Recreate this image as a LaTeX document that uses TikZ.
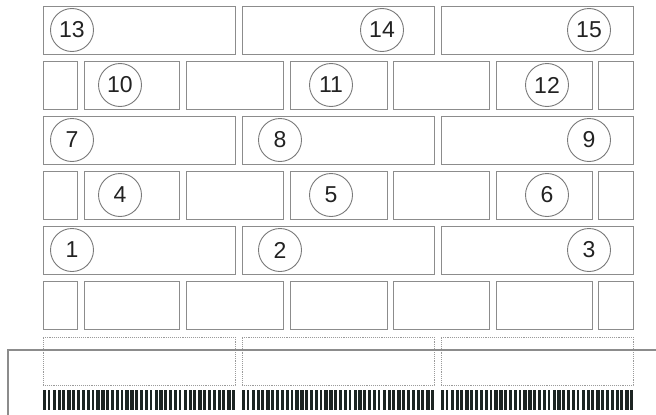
\documentclass[tikz,border=0pt]{standalone}
\usepackage{fontspec}
\setmainfont{Liberation Sans}
\definecolor{linegray}{HTML}{8C8C8C}
\definecolor{circgray}{HTML}{7A7A7A}
\definecolor{dashgray}{HTML}{9A9A9A}
\definecolor{textdark}{HTML}{222222}
\definecolor{bardark}{HTML}{1C2422}
\begin{document}
\begin{tikzpicture}[x=1pt,y=-1pt,
  brick/.style={draw=linegray, line width=1pt, inner sep=0pt, outer sep=0pt, anchor=north west, minimum height=48pt},
  ghost/.style={draw=dashgray, densely dotted, line width=0.9pt, inner sep=0pt, outer sep=0pt, anchor=north west, minimum height=48pt},
  num/.style={circle, draw=circgray, line width=0.9pt, minimum size=43pt, inner sep=0pt, font=\fontsize{23}{23}\selectfont, text=textdark},
  edge/.style={draw=linegray, line width=1.4pt}
]
\useasboundingbox (0,0) rectangle (656,415);
% full-width bricks
\foreach \r/\y in {a/6, b/116, c/226}{
  \foreach \k/\xa/\xb in {1/43/235, 2/242/434, 3/441/633}{
    \node[brick, minimum width={(\xb-\xa)*1pt}] (big-\r-\k) at (\xa,\y) {};
  }
}
% split bricks
\foreach \r/\y in {d/61, e/171, f/281}{
  \foreach \k/\xa/\xb in {1/43/77, 2/84/179, 3/186/283, 4/290/387, 5/393/489, 6/496/592, 7/598/633}{
    \node[brick, minimum width={(\xb-\xa)*1pt}] (small-\r-\k) at (\xa,\y) {};
  }
}
% dotted row
\foreach \k/\xa/\xb in {1/43/235, 2/242/434, 3/441/633}{
  \node[ghost, minimum width={(\xb-\xa)*1pt}] (ghost-\k) at (\xa,337) {};
}
% line
\coordinate (lb) at (8,415);
\coordinate (lc) at (8,350);
\coordinate (lr) at (656,350);
\draw[edge] (lb) -- (lc) -- (lr);
% barcode
\foreach \s in {43,242,441}{
  \foreach \i in {0,...,39}{
    \pgfmathsetmacro\w{ifthenelse(mod(\i,3)==1,2.6,3.3)}
    \fill[bardark] (\s+\i*4.85,390) rectangle ++(\w,20);
  }
}
% numbers
\node[num] (n13) at (72,30) {13};
\node[num] (n14) at (382,30) {14};
\node[num] (n15) at (589,30) {15};
\node[num] (n10) at (120,85) {10};
\node[num] (n11) at (331,85) {11};
\node[num] (n12) at (547,85) {12};
\node[num] (n7) at (72,140) {7};
\node[num] (n8) at (280,140) {8};
\node[num] (n9) at (589,140) {9};
\node[num] (n4) at (120,195) {4};
\node[num] (n5) at (331,195) {5};
\node[num] (n6) at (547,195) {6};
\node[num] (n1) at (72,250) {1};
\node[num] (n2) at (280,250) {2};
\node[num] (n3) at (589,250) {3};
\end{tikzpicture}
\end{document}
